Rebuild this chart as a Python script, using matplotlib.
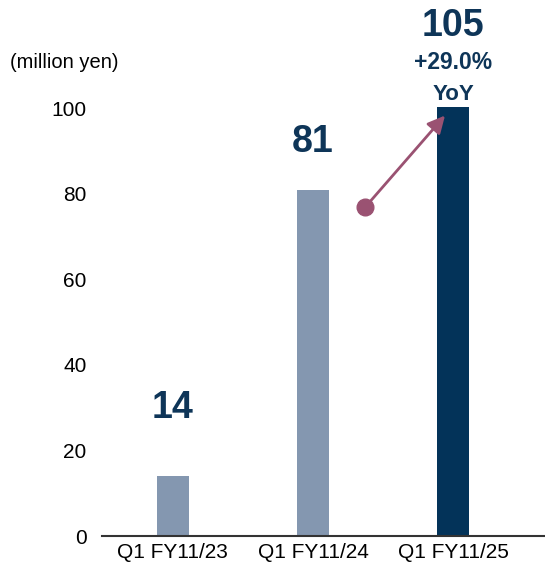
import matplotlib
matplotlib.use("Agg")
import matplotlib.pyplot as plt

plt.rcParams['font.family'] = ['Liberation Sans', 'DejaVu Sans']

# data
categories = ['Q1 FY11/23', 'Q1 FY11/24', 'Q1 FY11/25']
values = [14, 81, 105]
bar_colors = ['#8497B0', '#8497B0', '#033359']
yoy_text = '+29.0%'
navy = '#0E3558'
arrow_col = '#9A5272'

fig = plt.figure(figsize=(5.45, 5.66), dpi=100)
ax = fig.add_axes([0.187, 0.053, 0.813, 0.758])

x = list(range(len(categories)))
ax.bar(x, values, width=0.23, color=bar_colors, zorder=2)

ax.set_xlim(-0.507, 2.657)
ax.set_ylim(0, 100.3)
ax.set_yticks([0, 20, 40, 60, 80, 100])
ax.set_xticks(x)
ax.set_xticklabels(categories)
ax.tick_params(axis='both', length=0, labelsize=15, colors='black')
ax.tick_params(axis='y', pad=11)
ax.tick_params(axis='x', pad=5)
for s in ['left', 'right', 'top']:
    ax.spines[s].set_visible(False)
ax.spines['bottom'].set_linewidth(1.5)
ax.spines['bottom'].set_color('#333333')

# value labels
label_y = [29.9, 92.0, 119.3]
for xi, v, ly in zip(x, values, label_y):
    ax.text(xi, ly, str(v), ha='center', va='center', fontsize=27,
            fontweight='bold', color=navy, clip_on=False)
ax.text(2, 110.8, yoy_text, ha='center', va='center', fontsize=16.5,
        fontweight='bold', color=navy, clip_on=False)
ax.text(2, 103.2, 'YoY', ha='center', va='center', fontsize=16,
        fontweight='bold', color=navy, clip_on=False)

# growth arrow
ax.annotate('', xy=(1.943, 98.3), xytext=(1.371, 76.8),
            arrowprops=dict(arrowstyle='-|>', color=arrow_col, lw=2,
                            mutation_scale=26, shrinkA=0, shrinkB=0),
            annotation_clip=False)
ax.plot([1.371], [76.8], 'o', color=arrow_col, markersize=12, zorder=3)

fig.text(10 / 545, 1 - 63 / 566, '(million yen)', ha='left', va='center',
         fontsize=14.5)

fig.savefig('out.png', dpi=100)
